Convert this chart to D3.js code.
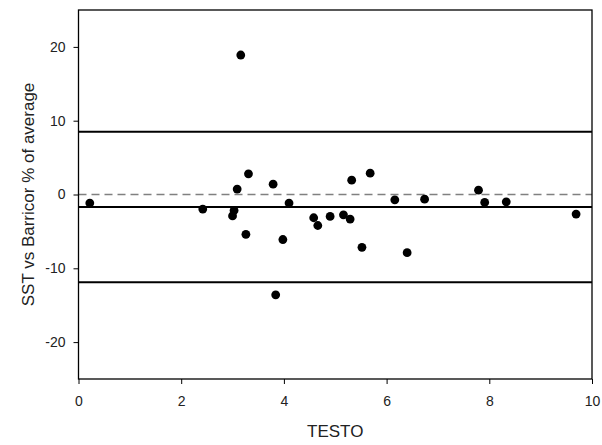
<!DOCTYPE html>
<html><head><meta charset="utf-8">
<script src="https://cdn.jsdelivr.net/npm/d3@7"></script>
<style>body{margin:0;background:#fff}svg{display:block}text{font-family:"Liberation Sans",Arial,sans-serif;fill:#222}</style>
</head><body>
<script>
const testo = [0.22,2.42,3.0,3.03,3.09,3.16,3.26,3.31,3.79,3.84,3.98,4.10,4.58,4.66,4.90,5.16,5.29,5.32,5.52,5.68,6.16,6.40,6.74,7.79,7.91,8.33,9.69];
const diffPct = [-1.16,-1.97,-2.9,-2.16,0.73,18.9,-5.4,2.8,1.4,-13.6,-6.1,-1.16,-3.15,-4.2,-2.97,-2.75,-3.33,1.94,-7.16,2.89,-0.72,-7.88,-0.63,0.59,-1.08,-0.99,-2.65];
const meanLine = [-1.7];
const limitLines = [8.5, -11.9];
const zeroLine = [0];
const xTicks = [0,2,4,6,8,10];
const yTicks = [-20,-10,0,10,20];

const W=602,H=445, m={l:78.5,r:10,t:10,b:66};
const svg=d3.select("body").append("svg").attr("width",W).attr("height",H);
const x=d3.scaleLinear().domain([0,10]).range([m.l,W-m.r]);
const y=d3.scaleLinear().domain([-25,25]).range([H-m.b,m.t]);

const g=svg.append("g");
g.selectAll(".z").data(zeroLine).join("line").attr("x1",x(0)).attr("x2",x(10))
 .attr("y1",d=>y(d)).attr("y2",d=>y(d)).attr("stroke","#808080").attr("stroke-width",1.5).attr("stroke-dasharray","8,5");
g.selectAll(".l").data(limitLines.concat(meanLine)).join("line").attr("x1",x(0)).attr("x2",x(10))
 .attr("y1",d=>y(d)).attr("y2",d=>y(d)).attr("stroke","#000").attr("stroke-width",2);

g.selectAll("circle").data(testo.map((t,i)=>[t,diffPct[i]])).join("circle")
 .attr("cx",d=>x(d[0])).attr("cy",d=>y(d[1])).attr("r",4.4).attr("fill","#000");

const fmt=d=>String(d);
const xa=svg.append("g").attr("transform",`translate(0,${H-m.b})`)
 .call(d3.axisBottom(x).tickValues(xTicks).tickSize(5).tickPadding(12).tickFormat(fmt));
const ya=svg.append("g").attr("transform",`translate(${m.l},0)`)
 .call(d3.axisLeft(y).tickValues(yTicks).tickSize(5).tickPadding(8).tickFormat(fmt));
[xa,ya].forEach(a=>{a.select(".domain").remove();a.selectAll("line").attr("stroke","#000");
 a.selectAll("text").style("font-size","14px").attr("fill","#222");});
svg.append("rect").attr("x",x(0)).attr("y",y(25)).attr("width",x(10)-x(0)).attr("height",y(-25)-y(25))
 .attr("fill","none").attr("stroke","#000").attr("stroke-width",1.3);

svg.append("text").attr("x",(x(0)+x(10))/2).attr("y",436.5).attr("text-anchor","middle")
 .style("font-size","17px").text("TESTO");
svg.append("text").attr("transform",`translate(34,${(y(25)+y(-25))/2}) rotate(-90)`).attr("text-anchor","middle")
 .style("font-size","17px").text("SST vs Barricor % of average");
</script>
</body></html>
